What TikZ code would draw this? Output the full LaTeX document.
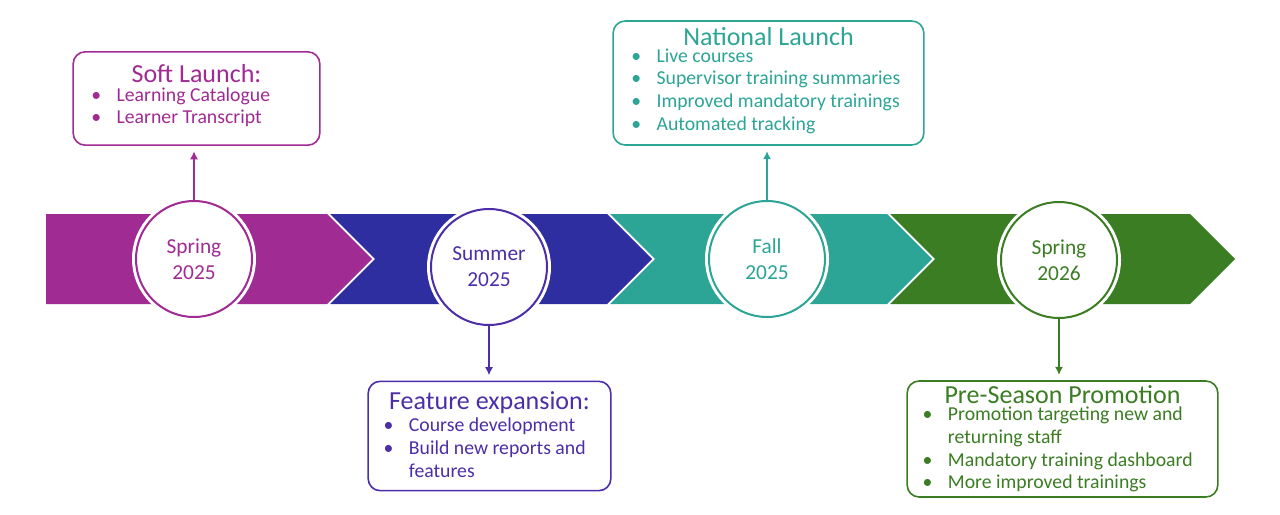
\documentclass[tikz,border=0pt]{standalone}
\usepackage{fontspec}
\setmainfont{Carlito}
\usetikzlibrary{positioning,arrows.meta}
\definecolor{cPurple}{RGB}{160,43,147}
\definecolor{cBlue}{RGB}{46,46,160}
\definecolor{cBlueTxt}{RGB}{76,46,168}
\definecolor{cTeal}{RGB}{44,165,150}
\definecolor{cGreen}{RGB}{59,125,35}
\tikzset{
  stage/.style={circle,fill=white,draw=#1,line width=1.5pt,minimum size=87pt,inner sep=0pt,align=center,text=#1,font=\fontsize{16}{19.5}\selectfont,
    preaction={draw=white,line width=6pt}},
  box/.style={draw=#1,line width=1.2pt,rounded corners=9pt,fill=white,inner sep=0pt},
  ttl/.style={text=#1,font=\fontsize{19.5}{21}\selectfont,inner sep=0pt,anchor=north},
  items/.style={text=#1,font=\fontsize{14.8}{17}\selectfont,align=left,inner sep=0pt,anchor=north west},
  link/.style={draw=#1,line width=1pt,-{Latex[length=6pt,width=6pt]}}
}
\newcommand{\bul}{\makebox[19pt][l]{\textbullet}}
\begin{document}
\begin{tikzpicture}[x=0.75pt,y=0.75pt,yscale=-1]
\useasboundingbox (0,0) rectangle (1280,514);
%band
\fill[cPurple] (46,214) -- (327,214) -- (372,259) -- (327,304) -- (46,304) -- cycle;
\fill[cBlue] (330,214) -- (607,214) -- (652,259) -- (607,304) -- (330,304) -- (375,259) -- cycle;
\fill[cTeal] (610,214) -- (887,214) -- (932,259) -- (887,304) -- (610,304) -- (655,259) -- cycle;
\fill[cGreen] (890,214) -- (1190,214) -- (1235,259) -- (1190,304) -- (890,304) -- (935,259) -- cycle;

%stages
\node[stage=cPurple] (spring25) at (194,259) {Spring\\2025};
\node[stage=cBlueTxt] (summer25) at (489,267) {Summer\\2025};
\node[stage=cTeal] (fall25) at (767,259) {Fall\\2025};
\node[stage=cGreen] (spring26) at (1059,260) {Spring\\2026};

%boxes
\node[box=cPurple,minimum width=185pt,minimum height=70pt] (soft) at (196.5,98.5) {};
\node[ttl=cPurple] (softT) at ([yshift=10pt]soft.north) {Soft Launch:};
\node[items=cPurple] at ([xshift=14pt,yshift=3pt]softT.south -| soft.west) {\bul Learning Catalogue\\\bul Learner Transcript};

\node[box=cTeal,minimum width=233pt,minimum height=93pt] (natl) at (768.5,83) {};
\node[ttl=cTeal] (natlT) at ([yshift=5pt]natl.north) {National Launch};
\node[items=cTeal] at ([xshift=14pt,yshift=2pt]natlT.south -| natl.west) {\bul Live courses\\\bul Supervisor training summaries\\\bul Improved mandatory trainings\\\bul Automated tracking};

\node[box=cBlueTxt,minimum width=182pt,minimum height=82pt] (feat) at (489.5,436) {};
\node[ttl=cBlueTxt] (featT) at ([yshift=8pt]feat.north) {Feature expansion:};
\node[items=cBlueTxt] at ([xshift=12pt,yshift=3pt]featT.south -| feat.west) {\bul Course development\\\bul Build new reports and\\\hspace{19pt}features};

\node[box=cGreen,minimum width=233pt,minimum height=87pt] (pre) at (1062.5,439) {};
\node[ttl=cGreen] (preT) at ([yshift=4pt]pre.north) {Pre-Season Promotion};
\node[items=cGreen] at ([xshift=12pt,yshift=2pt]preT.south -| pre.west) {\bul Promotion targeting new and\\\hspace{19pt}returning staff\\\bul Mandatory training dashboard\\\bul More improved trainings};

%links
\draw[link=cPurple] (spring25.north) -- ([yshift=4pt]soft.south -| spring25);
\draw[link=cTeal] (fall25.north) -- ([yshift=4pt]natl.south -| fall25);
\draw[link=cBlueTxt] (summer25.south) -- ([yshift=-4pt]feat.north -| summer25);
\draw[link=cGreen] (spring26.south) -- ([yshift=-4pt]pre.north -| spring26);
\end{tikzpicture}
\end{document}
